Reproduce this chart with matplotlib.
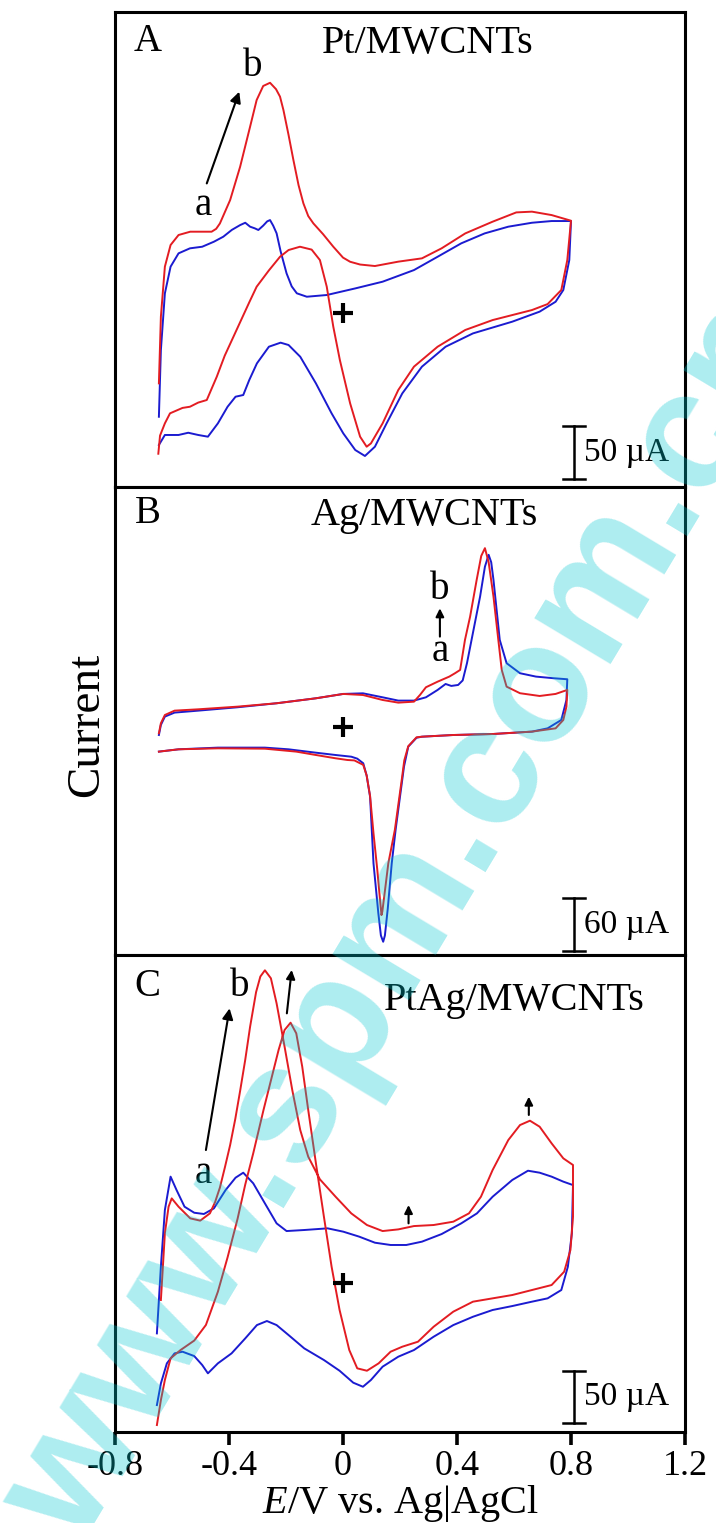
"""
Cyclic voltammograms of Pt/MWCNTs, Ag/MWCNTs and PtAg/MWCNTs (curves a and b).
"""

import matplotlib
matplotlib.use("Agg")
import matplotlib.pyplot as plt

plt.rcParams['font.family'] = ['Liberation Serif', 'DejaVu Serif']
plt.rcParams['mathtext.fontset'] = 'custom'
plt.rcParams['mathtext.it'] = 'Liberation Serif:italic'
plt.rcParams['mathtext.rm'] = 'Liberation Serif'

RED = '#e31c22'
BLUE = '#1b1bd0'

# ---------------------------------------------------------------------------
# Panel A: Pt/MWCNTs (E in V, I in uA)
# ---------------------------------------------------------------------------
a_red_fwd_E = [-0.646, -0.639, -0.625, -0.605, -0.577, -0.536, -0.481, -0.461, -0.445, -0.432,
               -0.396, -0.361, -0.326, -0.303, -0.280, -0.256, -0.235, -0.221, -0.209, -0.191,
               -0.174, -0.156, -0.139, -0.122, -0.104, -0.070, -0.034, 0.000, 0.025, 0.060,
               0.112, 0.194, 0.277, 0.346, 0.429, 0.525, 0.608, 0.663, 0.732, 0.800]
a_red_fwd_I = [-66.0, -3.4, 43.5, 63.8, 73.2, 76.3, 76.3, 76.3, 79.0, 84.0,
               106.0, 137.2, 174.8, 199.8, 213.0, 216.0, 210.0, 203.0, 190.4, 167.0,
               143.5, 120.0, 102.9, 91.0, 84.1, 74.0, 62.2, 52.0, 48.1, 45.5,
               44.1, 48.2, 51.3, 60.7, 74.7, 85.7, 94.4, 95.1, 91.9, 86.6]
a_red_rev_E = [0.787, 0.766, 0.718, 0.663, 0.525, 0.429, 0.332, 0.249, 0.194, 0.139,
               0.098, 0.083, 0.060, 0.025, -0.011, -0.034, -0.057, -0.081, -0.110, -0.151,
               -0.191, -0.221, -0.260, -0.303, -0.329, -0.384, -0.415, -0.443, -0.478, -0.508,
               -0.537, -0.563, -0.607, -0.625, -0.642, -0.648]
a_red_rev_I = [49.7, 21.6, 8.4, 2.8, -6.6, -15.9, -31.6, -50.3, -72.2, -103.5,
               -122.3, -125.4, -116.0, -84.7, -44.1, -12.9, 24.7, 49.7, 59.5, 62.2,
               59.1, 52.8, 40.0, 24.7, 10.0, -22.0, -40.0, -59.8, -81.6, -84.0,
               -87.9, -89.0, -94.1, -103.5, -115.0, -132.0]

a_blue_fwd_E = [-0.646, -0.639, -0.625, -0.605, -0.577, -0.537, -0.494, -0.453, -0.420, -0.390,
                -0.361, -0.343, -0.326, -0.310, -0.297, -0.280, -0.266, -0.256, -0.245, -0.233,
                -0.219, -0.198, -0.180, -0.162, -0.127, -0.057, 0.043, 0.139, 0.249, 0.332,
                0.415, 0.497, 0.580, 0.663, 0.732, 0.800]
a_blue_fwd_I = [-97.3, -34.7, 18.4, 43.5, 56.0, 60.7, 62.2, 66.9, 71.6, 78.0,
                82.5, 84.7, 81.0, 79.5, 77.9, 82.0, 86.0, 87.2, 82.0, 74.8,
                58.0, 37.2, 25.0, 18.5, 15.3, 16.9, 23.1, 29.4, 40.3, 52.8,
                65.4, 74.7, 81.0, 84.7, 86.3, 86.3]
a_blue_rev_E = [0.794, 0.773, 0.746, 0.690, 0.594, 0.456, 0.360, 0.277, 0.208, 0.153,
                0.112, 0.077, 0.043, 0.001, -0.040, -0.095, -0.150, -0.191, -0.219, -0.260,
                -0.302, -0.329, -0.350, -0.377, -0.405, -0.439, -0.474, -0.508, -0.543, -0.577,
                -0.625, -0.646]
a_blue_rev_I = [49.7, 21.6, 10.6, 1.3, -8.1, -19.1, -31.6, -50.3, -75.4, -103.5,
                -125.4, -134.1, -128.5, -112.9, -94.1, -66.0, -41.0, -30.0, -27.8, -31.6,
                -47.2, -62.9, -76.9, -78.5, -87.9, -103.5, -116.0, -114.4, -112.3, -114.4,
                -114.4, -123.8]

# ---------------------------------------------------------------------------
# Panel B: Ag/MWCNTs
# ---------------------------------------------------------------------------
b_red_fwd_E = [-0.646, -0.639, -0.625, -0.591, -0.508, -0.370, -0.233, -0.095, 0.001, 0.070,
               0.139, 0.194, 0.249, 0.270, 0.291, 0.332, 0.373, 0.393, 0.411, 0.428,
               0.446, 0.469, 0.485, 0.498, 0.511, 0.528, 0.545, 0.557, 0.574, 0.621,
               0.690, 0.746, 0.787]
b_red_fwd_I = [-7.5, 3.8, 13.1, 18.0, 19.5, 22.5, 26.3, 31.9, 36.8, 35.6,
               30.0, 27.0, 28.1, 35.6, 44.3, 50.6, 56.3, 60.1, 63.8, 97.6,
               123.8, 165.1, 192.0, 200.8, 185.0, 146.3, 97.6, 63.8, 45.0, 37.6,
               34.5, 36.8, 41.3]
b_red_rev_E = [0.784, 0.773, 0.746, 0.663, 0.525, 0.387, 0.277, 0.258, 0.229, 0.215,
               0.206, 0.182, 0.159, 0.147, 0.138, 0.135, 0.130, 0.120, 0.107, 0.095,
               0.083, 0.071, 0.040, 0.015, -0.026, -0.095, -0.164, -0.274, -0.439, -0.577,
               -0.646]
b_red_rev_I = [22.5, 7.5, -1.9, -5.6, -8.3, -9.4, -11.3, -12.0, -22.0, -38.0,
               -60.0, -116.0, -153.8, -185.0, -208.0, -212.0, -195.0, -160.0, -120.0, -78.0,
               -55.0, -43.0, -38.0, -37.5, -35.6, -31.9, -28.1, -24.8, -24.4, -25.5,
               -28.1]

b_blue_fwd_E = [-0.646, -0.639, -0.625, -0.591, -0.508, -0.370, -0.233, -0.095, 0.001, 0.070,
                0.139, 0.194, 0.249, 0.291, 0.332, 0.360, 0.380, 0.404, 0.420, 0.435,
                0.458, 0.481, 0.498, 0.511, 0.520, 0.528, 0.550, 0.574, 0.621, 0.677,
                0.738, 0.787]
b_blue_fwd_I = [-9.4, 1.9, 11.3, 15.8, 18.0, 21.8, 26.3, 31.9, 36.8, 37.5,
                33.0, 29.3, 29.3, 33.0, 41.3, 48.0, 45.8, 46.9, 52.0, 71.4,
                108.9, 146.3, 180.0, 193.3, 185.0, 165.1, 97.6, 71.4, 60.1, 56.3,
                54.5, 53.3]
b_blue_rev_E = [0.784, 0.766, 0.718, 0.663, 0.525, 0.387, 0.277, 0.258, 0.229, 0.214,
                0.200, 0.185, 0.171, 0.157, 0.147, 0.141, 0.133, 0.124, 0.107, 0.095,
                0.083, 0.071, 0.050, 0.029, -0.026, -0.095, -0.191, -0.274, -0.439, -0.577,
                -0.646]
b_blue_rev_I = [30.0, 7.5, -1.9, -5.6, -8.3, -9.4, -11.3, -12.5, -22.5, -45.0,
                -78.8, -115.0, -153.8, -205.0, -235.0, -242.0, -235.0, -210.0, -153.8, -78.8,
                -55.0, -41.2, -36.0, -33.8, -31.9, -29.3, -25.5, -23.6, -23.6, -25.5,
                -28.1]

# ---------------------------------------------------------------------------
# Panel C: PtAg/MWCNTs
# ---------------------------------------------------------------------------
c_red_fwd_E = [-0.639, -0.625, -0.612, -0.601, -0.577, -0.536, -0.501, -0.467, -0.449, -0.432,
               -0.414, -0.396, -0.378, -0.361, -0.343, -0.326, -0.305, -0.290, -0.274, -0.253,
               -0.233, -0.205, -0.178, -0.150, -0.122, -0.081, -0.026, 0.029, 0.084, 0.139,
               0.194, 0.249, 0.318, 0.387, 0.442, 0.484, 0.525, 0.580, 0.621, 0.656,
               0.690, 0.732, 0.773, 0.807]
c_red_fwd_I = [-16.0, 48.1, 73.7, 81.7, 73.7, 62.5, 60.3, 67.3, 78.0, 92.0,
               112.0, 133.0, 158.0, 185.0, 215.0, 246.7, 280.0, 295.0, 301.0, 293.3,
               269.2, 227.6, 185.9, 147.4, 121.8, 100.0, 83.3, 67.3, 56.1, 50.3,
               51.9, 55.1, 56.1, 59.3, 67.3, 83.3, 109.0, 137.8, 152.2, 156.4,
               150.6, 134.6, 120.2, 113.8]
c_red_rev_E = [0.807, 0.798, 0.776, 0.732, 0.663, 0.594, 0.525, 0.456, 0.387, 0.318,
               0.263, 0.208, 0.167, 0.125, 0.084, 0.050, 0.022, -0.012, -0.040, -0.067,
               -0.095, -0.122, -0.143, -0.164, -0.184, -0.205, -0.226, -0.253, -0.279, -0.315,
               -0.343, -0.370, -0.405, -0.439, -0.481, -0.522, -0.570, -0.605, -0.625, -0.639,
               -0.653]
c_red_rev_I = [64.1, 32.1, 11.2, -1.6, -6.4, -11.2, -14.4, -17.6, -27.2, -41.7,
               -56.1, -60.9, -65.7, -76.9, -84.0, -81.7, -64.1, -25.6, 16.0, 64.1,
               115.4, 166.7, 208.3, 240.4, 250.6, 243.6, 224.4, 195.0, 166.6, 125.0,
               95.0, 62.0, 25.0, -8.0, -40.0, -55.0, -64.1, -72.1, -92.9, -112.2,
               -136.2]

c_blue_fwd_E = [-0.653, -0.639, -0.625, -0.605, -0.584, -0.556, -0.522, -0.488, -0.453, -0.412,
                -0.377, -0.350, -0.315, -0.274, -0.233, -0.198, -0.136, -0.054, 0.001, 0.057,
                0.112, 0.167, 0.222, 0.277, 0.346, 0.415, 0.470, 0.525, 0.594, 0.649,
                0.690, 0.732, 0.773, 0.807]
c_blue_fwd_I = [-48.1, 16.0, 70.5, 102.6, 89.7, 73.7, 67.9, 66.7, 72.1, 89.7,
                101.6, 106.4, 96.2, 76.9, 57.7, 50.3, 51.3, 52.9, 49.7, 44.9,
                39.1, 36.9, 36.9, 40.1, 47.4, 57.7, 67.3, 83.3, 99.4, 108.3,
                106.4, 102.6, 97.8, 94.5]
c_blue_rev_E = [0.803, 0.789, 0.766, 0.718, 0.663, 0.594, 0.525, 0.456, 0.387, 0.318,
                0.249, 0.194, 0.139, 0.098, 0.070, 0.036, -0.012, -0.067, -0.136, -0.191,
                -0.233, -0.267, -0.302, -0.343, -0.391, -0.439, -0.474, -0.494, -0.522, -0.563,
                -0.591, -0.618, -0.639, -0.653]
c_blue_rev_I = [48.1, 16.0, -6.4, -14.4, -17.6, -21.8, -25.6, -32.1, -40.1, -51.3,
                -64.1, -70.5, -80.1, -92.9, -99.4, -95.5, -84.0, -73.7, -62.5, -49.7,
                -40.1, -36.2, -40.1, -52.9, -67.3, -76.9, -86.5, -78.5, -69.9, -65.7,
                -67.3, -76.9, -96.2, -117.0]

x_ticks = [-0.8, -0.4, 0.0, 0.4, 0.8, 1.2]
x_tick_labels = ['-0.8', '-0.4', '0', '0.4', '0.8', '1.2']
panel_letters = ['A', 'B', 'C']
panel_titles = ['Pt/MWCNTs', 'Ag/MWCNTs', 'PtAg/MWCNTs']
scale_bar_uA = [50, 60, 50]


def plot_cv(ax, red_fwd, red_rev, blue_fwd, blue_rev):
    """Draw curve a (blue) and curve b (red) as forward + reverse scan."""
    for fwd, rev, color in ((blue_fwd, blue_rev, BLUE), (red_fwd, red_rev, RED)):
        ax.plot(fwd[0] + rev[0], fwd[1] + rev[1], color=color, lw=1.4, zorder=3,
                solid_joinstyle='round')


def scale_bar(ax, x, y_top, length, label):
    ax.plot([x, x], [y_top, y_top - length], color='k', lw=1.8)
    for yy in (y_top, y_top - length):
        ax.plot([x - 0.038, x + 0.038], [yy, yy], color='k', lw=1.8)
    ax.text(x + 0.035, y_top - length / 2, label, fontsize=24, ha='left', va='center')


def arrow(ax, start, end, ms=16):
    ax.annotate('', xy=end, xytext=start,
                arrowprops=dict(arrowstyle='-|>', color='k', lw=1.5,
                                mutation_scale=ms, shrinkA=0, shrinkB=0))


fig = plt.figure(figsize=(7.16, 15.23), dpi=100)
left, width = 115 / 716, 570 / 716
axA = fig.add_axes([left, 1 - 487 / 1523, width, 475 / 1523])
axB = fig.add_axes([left, 1 - 955 / 1523, width, 468 / 1523])
axC = fig.add_axes([left, 1 - 1432 / 1523, width, 477 / 1523])
axes = [axA, axB, axC]
ylims = [(-163.2, 282.4), (-256.9, 269.6), (-142.9, 315.7)]

plot_cv(axA, (a_red_fwd_E, a_red_fwd_I), (a_red_rev_E, a_red_rev_I),
        (a_blue_fwd_E, a_blue_fwd_I), (a_blue_rev_E, a_blue_rev_I))
plot_cv(axB, (b_red_fwd_E, b_red_fwd_I), (b_red_rev_E, b_red_rev_I),
        (b_blue_fwd_E, b_blue_fwd_I), (b_blue_rev_E, b_blue_rev_I))
plot_cv(axC, (c_red_fwd_E, c_red_fwd_I), (c_red_rev_E, c_red_rev_I),
        (c_blue_fwd_E, c_blue_fwd_I), (c_blue_rev_E, c_blue_rev_I))

letter_y = [254.5, 240.0, 285.2]
title_pos = [(0.298, 253.0), (0.284, 238.1), (0.601, 272.4)]
bar_top = [-106.0, -192.4, -84.0]

for i, ax in enumerate(axes):
    ax.set_xlim(-0.8, 1.2)
    ax.set_ylim(*ylims[i])
    ax.set_yticks([])
    for sp in ax.spines.values():
        sp.set_linewidth(2.2)
    ax.text(-0.685, letter_y[i], panel_letters[i], fontsize=28, ha='center', va='center')
    ax.text(title_pos[i][0], title_pos[i][1], panel_titles[i], fontsize=29,
            ha='center', va='center')
    ax.plot([0], [0], marker='+', ms=15, mew=3, color='k', zorder=4)
    scale_bar(ax, 0.811, bar_top[i], scale_bar_uA[i], f'{scale_bar_uA[i]} µA')
    if ax is not axC:
        ax.set_xticks([])

# curve labels and arrows
axA.text(-0.318, 231.1, 'b', fontsize=28, ha='center', va='center')
axA.text(-0.492, 101.3, 'a', fontsize=28, ha='center', va='center')
arrow(axA, (-0.478, 121.6), (-0.364, 207.6))

axB.text(0.340, 153.8, 'b', fontsize=28, ha='center', va='center')
axB.text(0.340, 84.4, 'a', fontsize=28, ha='center', va='center')
arrow(axB, (0.340, 101.3), (0.340, 133.1), ms=12)

axC.text(-0.364, 285.2, 'b', fontsize=28, ha='center', va='center')
axC.text(-0.492, 105.8, 'a', fontsize=28, ha='center', va='center')
arrow(axC, (-0.481, 128.2), (-0.398, 264.4))
arrow(axC, (-0.197, 259.6), (-0.180, 301.3), ms=13)
arrow(axC, (0.652, 161.9), (0.652, 179.5), ms=12)
arrow(axC, (0.230, 57.7), (0.230, 75.3), ms=12)

axC.set_xticks(x_ticks)
axC.set_xticklabels(x_tick_labels, fontsize=26)
axC.tick_params(axis='x', direction='out', length=9, width=2.6, pad=4)
axC.set_xlabel(r'$E$/V vs. Ag|AgCl', fontsize=29, labelpad=0)

fig.text(87 / 716, 1 - 725 / 1523, 'Current', fontsize=34, rotation=90,
         ha='center', va='center')

# watermark, running diagonally from the bottom-left corner
fig.text(80 / 716, 1 - 1548 / 1523, 'www.spm.com.cn', fontsize=121,
         family='Liberation Sans', fontweight='bold', rotation=59,
         rotation_mode='anchor', ha='left', va='baseline',
         color=(0.0, 0.78, 0.82), alpha=0.32, zorder=10)

fig.savefig('out.png', dpi=100)
